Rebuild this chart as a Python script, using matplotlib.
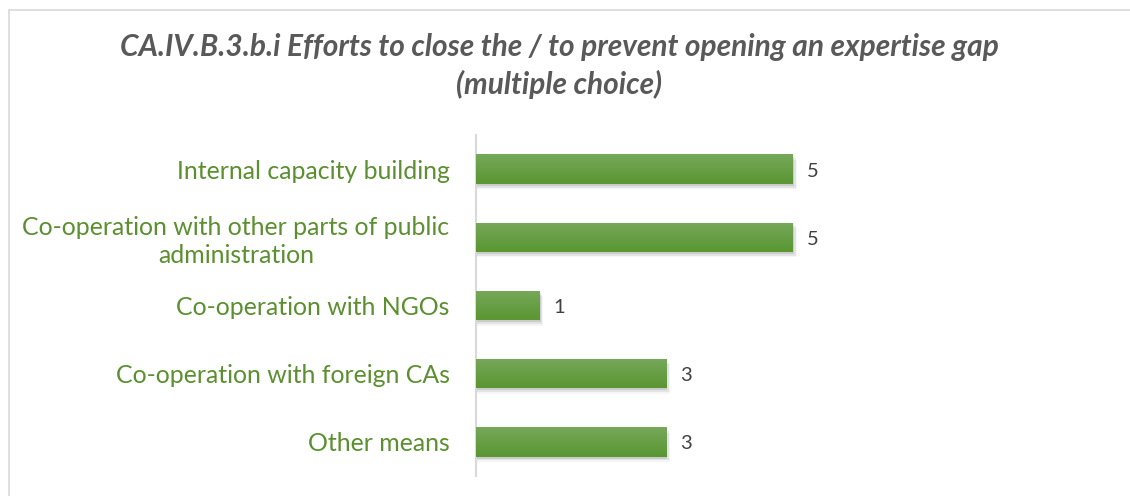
import numpy as np
import matplotlib.pyplot as plt
from matplotlib.patches import Rectangle
from matplotlib.colors import LinearSegmentedColormap

categories = [
    "Internal capacity building",
    "Co-operation with other parts of public\nadministration",
    "Co-operation with NGOs",
    "Co-operation with foreign CAs",
    "Other means",
]
counts = [5, 5, 1, 3, 3]

title = "CA.IV.B.3.b.i Efforts to close the / to prevent opening an expertise gap\n(multiple choice)"

label_green = "#5b8f2f"
text_gray = "#404040"
bar_cmap = LinearSegmentedColormap.from_list("bar", ["#76a85a", "#5a9632"])

plt.rcParams["font.family"] = ["Lato", "DejaVu Sans"]

fig = plt.figure(figsize=(11.3, 4.96), dpi=100)
# outer chart frame
fig.patches.append(Rectangle((9 / 1130, -0.1), 1.2, 1 - 10 / 496 + 0.1,
                             transform=fig.transFigure, fill=False,
                             edgecolor="#d9d9d9", linewidth=1.2))

ax = fig.add_axes([476 / 1130, 1 - 476 / 496, 634 / 1130, 341 / 496])
y = np.arange(len(categories))
bars = ax.barh(y, counts, height=0.43, color="#66a03f", zorder=3)

grad = np.linspace(0, 1, 64).reshape(-1, 1)
for b, v in zip(bars, counts):
    x0, y0 = b.get_x(), b.get_y()
    w, h = b.get_width(), b.get_height()
    # soft drop shadow under each bar
    for k, a in enumerate([0.10, 0.07, 0.04]):
        ax.add_patch(Rectangle((x0, y0 + 0.03 + k * 0.025), w + 0.02 * (k + 1), h,
                               color="black", alpha=a, lw=0, zorder=2))
    im = ax.imshow(grad, cmap=bar_cmap, aspect="auto", zorder=4,
                   extent=(x0, x0 + w, y0 + h, y0))
    im.set_clip_path(b)
    ax.text(v + 0.22, b.get_y() + h / 2 + 0.03, str(v), va="center", ha="left",
            fontsize=14.5, color=text_gray)

ax.set_xlim(0, 10)
ax.set_ylim(len(categories) - 0.5, -0.5)
ax.set_yticks(y)
ax.set_yticklabels(categories, fontsize=17.9, color=label_green,
                   multialignment="center", linespacing=1.25)
ax.tick_params(axis="y", length=0, pad=19)
ax.set_xticks([])
for s in ["top", "right", "bottom"]:
    ax.spines[s].set_visible(False)
ax.spines["left"].set_color("#d9d9d9")
ax.spines["left"].set_linewidth(1.5)

fig.text(0.495, 1 - 66 / 496, title, ha="center", va="center", fontsize=21.5,
         fontweight="bold", fontstyle="italic", color="#595959", linespacing=1.4)

fig.savefig("out.png", dpi=100)
